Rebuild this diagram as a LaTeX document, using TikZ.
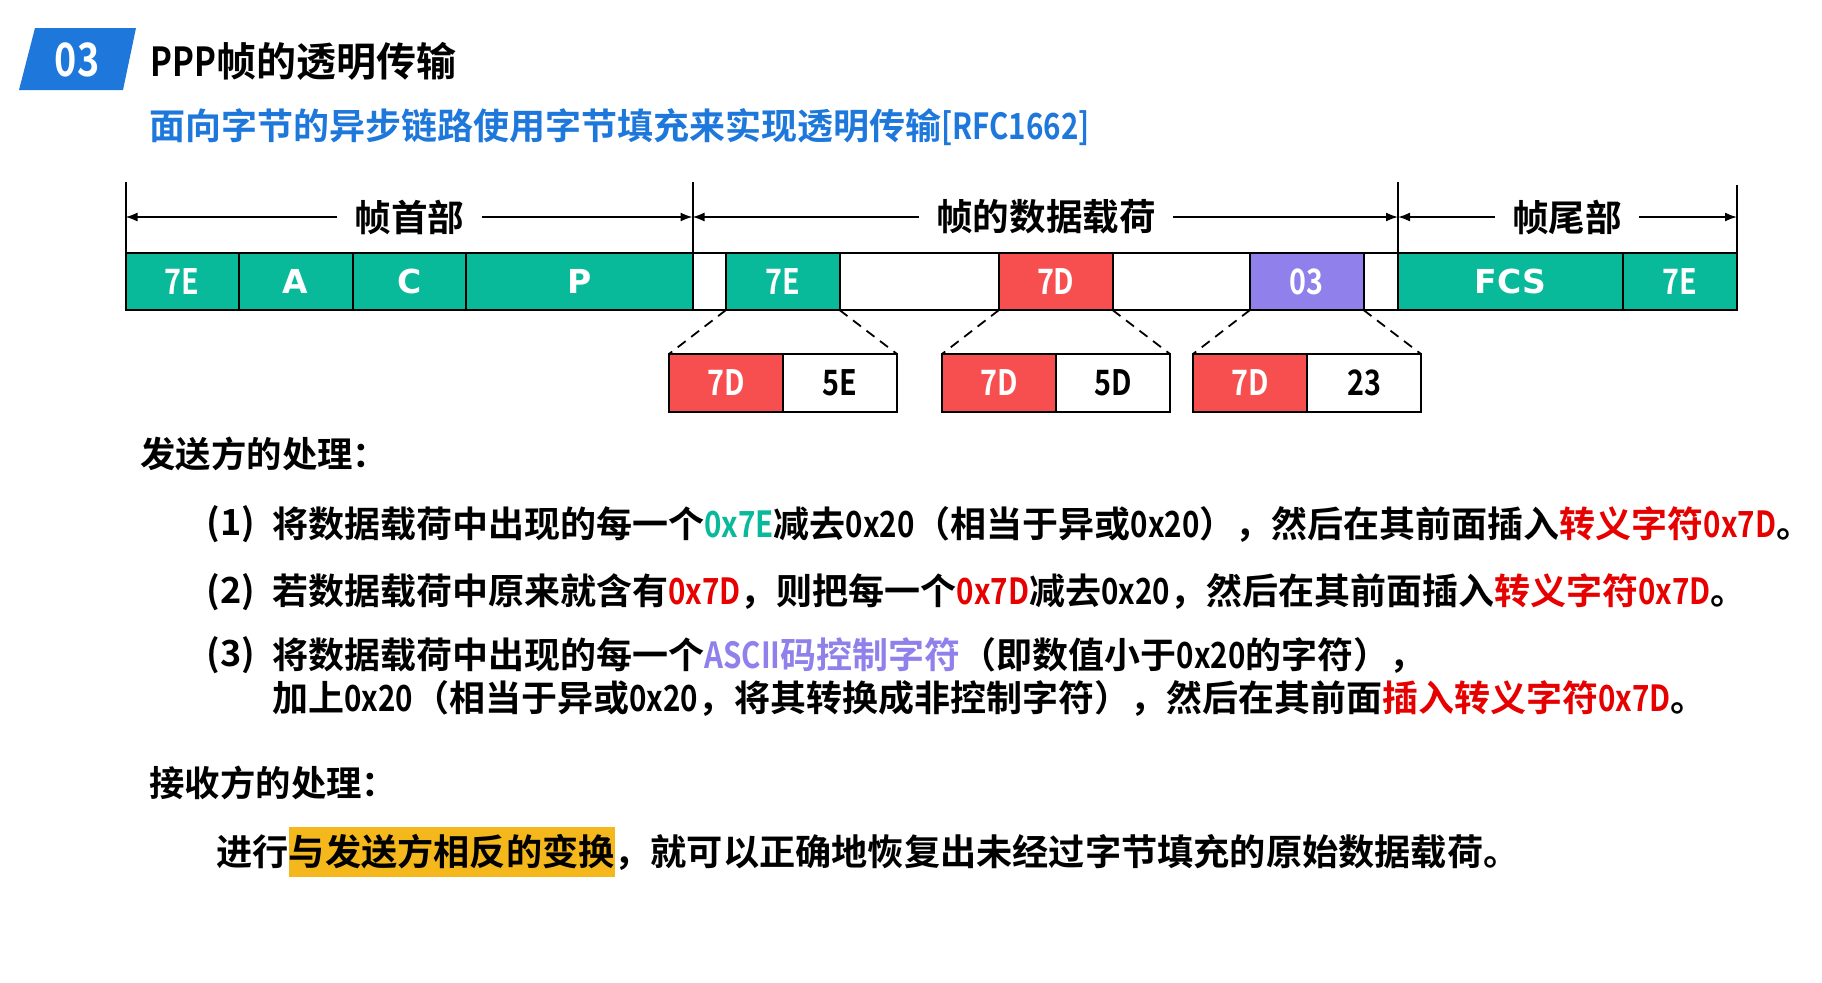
\documentclass[tikz,border=0pt]{standalone}
\usepackage{fontspec}
\setmainfont{Noto Sans CJK SC Bold}
\newfontfamily\narrowfont{Noto Sans CJK SC Bold}[FakeStretch=0.82]
\newfontfamily\widefont{DejaVu Sans Bold}
\usepackage{xcolor}
\usetikzlibrary{arrows.meta,positioning,calc}
\definecolor{framegreen}{RGB}{8,186,154}
\definecolor{escred}{RGB}{247,79,79}
\definecolor{ctrlpurple}{RGB}{143,128,236}
\definecolor{badgeblue}{RGB}{30,120,220}
\definecolor{textred}{RGB}{230,0,0}
\definecolor{hlyellow}{RGB}{245,184,28}
\newcommand{\hx}[1]{{\narrowfont #1}}
\newcommand{\redtxt}[1]{\textcolor{textred}{#1}}
\newcommand{\greentxt}[1]{\textcolor{framegreen}{#1}}
\newcommand{\purpletxt}[1]{\textcolor{ctrlpurple}{#1}}

\begin{document}
\begin{tikzpicture}[
    x=0.5pt, y=-0.5pt,
    >={Latex[length=6pt,width=4.5pt]},
    cell/.style={draw=black, line width=1pt, outer sep=0pt, inner sep=0pt, minimum height=28.5pt, minimum width=56.75pt, text=white, font=\narrowfont\fontsize{17.5}{18}\selectfont},
    greencell/.style={cell, fill=framegreen},
    fieldcell/.style={greencell, font=\widefont\fontsize{16.5}{18}\selectfont},
    redcell/.style={cell, fill=escred},
    purplecell/.style={cell, fill=ctrlpurple},
    blankcell/.style={cell, fill=white, text=black},
    subcell/.style={minimum height=29pt, minimum width=57pt},
    part/.style={font=\fontsize{18.3}{20}\selectfont, inner xsep=8.5pt, inner ysep=0pt},
    para/.style={anchor=west, inner sep=0pt, font=\fontsize{18}{20}\selectfont},
    heading/.style={anchor=west, inner sep=0pt, font=\fontsize{17.7}{20}\selectfont},
    zoomline/.style={dash pattern=on 5pt off 3.5pt, line width=0.9pt}
]
\fill[white] (0,0) rectangle (1822,982);

% title bar
\fill[badgeblue] (35,28) -- (136,28) -- (123,90) -- (19,90) -- cycle;
\node[text=white, font=\narrowfont\fontsize{23}{24}\selectfont] (badge) at (77,60) {03};
\node[anchor=west, inner sep=0pt, font=\fontsize{20}{24}\selectfont] (title) at (150,61) {\hx{PPP}帧的透明传输};
\node[anchor=west, inner sep=0pt, text=badgeblue, font=\fontsize{18}{22}\selectfont] (subtitle) at (149,127) {面向字节的异步链路使用字节填充来实现透明传输\hx{[RFC1662]}};

% the frame
\node[greencell] (h1) at (182.25,281.5) {7E};
\node[fieldcell, right=0pt of h1] (h2) {A};
\node[fieldcell, right=0pt of h2] (h3) {C};
\node[fieldcell, right=0pt of h3, minimum width=113.25pt] (h4) {P};
\node[blankcell, right=0pt of h4, minimum width=16.75pt] (d1) {};
\node[greencell, right=0pt of d1] (d2) {7E};
\node[blankcell, right=0pt of d2, minimum width=79.75pt] (d3) {};
\node[redcell, right=0pt of d3] (d4) {7D};
\node[blankcell, right=0pt of d4, minimum width=68.75pt] (d5) {};
\node[purplecell, right=0pt of d5] (d6) {03};
\node[blankcell, right=0pt of d6, minimum width=17.25pt] (d7) {};
\node[fieldcell, right=0pt of d7, minimum width=112.5pt] (t1) {FCS};
\node[greencell, right=0pt of t1, minimum width=57pt] (t2) {7E};

% header / payload / trailer spans
\coordinate (v0) at (125.5,182);
\coordinate (v1) at (692.5,182);
\coordinate (v2) at (1398,182);
\coordinate (v3) at (1737,185);
\draw[line width=1pt] (h1.north west) -- (v0);
\draw[line width=1pt] (h4.north east) -- (v1);
\draw[line width=1pt] (t1.north west) -- (v2);
\draw[line width=1pt] (t2.north east) -- (v3);
\node[part] (lhead) at (409.5,217) {帧首部};
\node[part] (ldata) at (1046,217) {帧的数据载荷};
\node[part] (ltail) at (1567,217) {帧尾部};
\draw[->, line width=0.85pt] (lhead.west) -- (lhead.west -| v0);
\draw[->, line width=0.85pt] (lhead.east) -- (lhead.east -| v1);
\draw[->, line width=0.85pt] (ldata.west) -- (ldata.west -| v1);
\draw[->, line width=0.85pt] (ldata.east) -- (ldata.east -| v2);
\draw[->, line width=0.85pt] (ltail.west) -- (ltail.west -| v2);
\draw[->, line width=0.85pt] (ltail.east) -- (ltail.east -| v3);

% escaped bytes
\node[redcell, subcell, below=22pt of d2.south west] (s1a) {7D};
\node[blankcell, subcell, right=0pt of s1a] (s1b) {5E};
\node[redcell, subcell, below=22pt of d4.south west] (s2a) {7D};
\node[blankcell, subcell, right=0pt of s2a] (s2b) {5D};
\node[redcell, subcell, below=22pt of d6.south west] (s3a) {7D};
\node[blankcell, subcell, right=0pt of s3a] (s3b) {23};
\draw[zoomline] (d2.south west) -- (s1a.north west);
\draw[zoomline] (d2.south east) -- (s1b.north east);
\draw[zoomline] (d4.south west) -- (s2a.north west);
\draw[zoomline] (d4.south east) -- (s2b.north east);
\draw[zoomline] (d6.south west) -- (s3a.north west);
\draw[zoomline] (d6.south east) -- (s3b.north east);

% sender side
\node[heading] (send) at (140,454) {发送方的处理：};
\node[para] (n1) at (206,524) {(1)};
\node[para] (r1) at (272,524) {将数据载荷中出现的每一个\greentxt{\hx{0x7E}}减去\hx{0x20}（相当于异或\hx{0x20}），然后在其前面插入\redtxt{转义字符\hx{0x7D}}。};
\node[para] (n2) at (206,592) {(2)};
\node[para] (r2) at (272,592) {若数据载荷中原来就含有\redtxt{\hx{0x7D}}，则把每一个\redtxt{\hx{0x7D}}减去\hx{0x20}，然后在其前面插入\redtxt{转义字符\hx{0x7D}}。};
\node[para] (n3) at (206,655) {(3)};
\node[para] (r3) at (272,655) {将数据载荷中出现的每一个\purpletxt{\hx{ASCII}码控制字符}（即数值小于\hx{0x20}的字符），};
\node[para] (r3b) at (272,698) {加上\hx{0x20}（相当于异或\hx{0x20}，将其转换成非控制字符），然后在其前面\redtxt{插入转义字符\hx{0x7D}}。};

% receiver side
\node[heading] (recv) at (149,783) {接收方的处理：};
\node[anchor=west, inner sep=0pt, font=\fontsize{18.1}{20}\selectfont] (back) at (216,852) {进行{\fboxsep=0pt\colorbox{hlyellow}{\rule[-0.32em]{0pt}{1.4em}与发送方相反的变换}}，就可以正确地恢复出未经过字节填充的原始数据载荷。};
\end{tikzpicture}
\end{document}
